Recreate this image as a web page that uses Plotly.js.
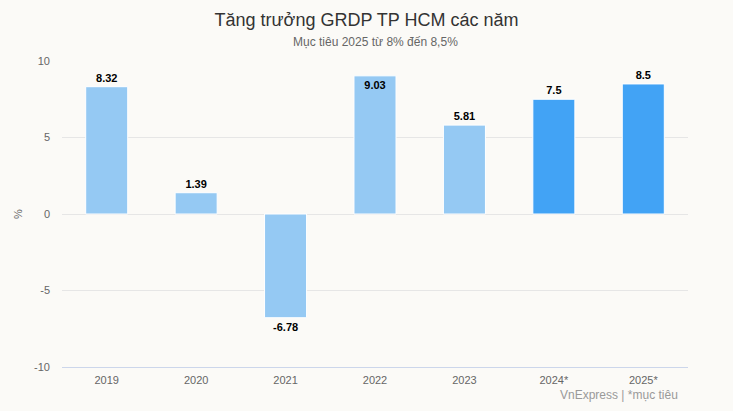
<!DOCTYPE html>
<html>
<head>
<meta charset="utf-8">
<script src="https://cdn.plot.ly/plotly-3.0.1.min.js"></script>
<style>
html,body{margin:0;padding:0;background:#fbfaf7;}
#chart{width:733px;height:411px;}
</style>
</head>
<body>
<div id="chart"></div>
<script>
var years = ['2019', '2020', '2021', '2022', '2023', '2024*', '2025*'];
var growth = [8.32, 1.39, -6.78, 9.03, 5.81, 7.5, 8.5];
var labels = ['8.32', '1.39', '-6.78', '9.03', '5.81', '7.5', '8.5'];
var barColors = ['#95c9f3', '#95c9f3', '#95c9f3', '#95c9f3', '#95c9f3', '#42a3f5', '#42a3f5'];
var labelPositions = ['outside', 'outside', 'outside', 'inside', 'outside', 'outside', 'outside'];
var yTickValues = [-10, -5, 0, 5, 10];
var yTickLabels = ['-10', '-5', '0', '5', '10'];

var lblFont = {family: 'Liberation Sans, Arial, sans-serif', size: 11, color: '#000000', weight: 'bold'};

var trace = {
  type: 'bar',
  x: years,
  y: growth,
  text: labels,
  textposition: labelPositions,
  insidetextanchor: 'end',
  constraintext: 'none',
  cliponaxis: false,
  textfont: lblFont,
  insidetextfont: lblFont,
  outsidetextfont: lblFont,
  marker: {color: barColors, line: {color: '#ffffff', width: 1}},
  hoverinfo: 'x+y'
};

var layout = {
  width: 733,
  height: 411,
  paper_bgcolor: '#fbfaf7',
  plot_bgcolor: '#fbfaf7',
  margin: {l: 62, r: 45, t: 61, b: 44},
  font: {family: 'Liberation Sans, Arial, sans-serif', color: '#666666'},
  showlegend: false,
  bargap: 0.53,
  title: {
    text: 'Tăng trưởng GRDP TP HCM các năm',
    font: {size: 18, color: '#333333'},
    x: 0.5, xanchor: 'center',
    y: 0.952, yanchor: 'middle'
  },
  xaxis: {
    type: 'category',
    showgrid: false,
    showline: true,
    linecolor: '#ccd6eb',
    linewidth: 1,
    ticks: '',
    ticklabelstandoff: 3,
    tickfont: {size: 11, color: '#666666'},
    zeroline: false
  },
  yaxis: {
    range: [-10, 10],
    tickmode: 'array',
    tickvals: yTickValues,
    ticktext: yTickLabels,
    showgrid: true,
    gridcolor: '#e6e6e6',
    gridwidth: 1,
    zeroline: false,
    showline: false,
    ticks: '',
    ticklabelstandoff: 11,
    tickfont: {size: 11, color: '#666666'},
    title: {text: '%', font: {size: 11, color: '#666666'}, standoff: 9}
  },
  annotations: [
    {
      text: 'Mục tiêu 2025 từ 8% đến 8,5%',
      xref: 'paper', yref: 'paper',
      x: 0.5, xanchor: 'center',
      y: 1, yanchor: 'bottom', yshift: 10,
      showarrow: false,
      font: {size: 12, color: '#666666'}
    },
    {
      text: 'VnExpress | *mục tiêu',
      xref: 'paper', yref: 'paper',
      x: 1, xanchor: 'right', xshift: -8,
      y: 0, yanchor: 'top', yshift: -19,
      showarrow: false,
      font: {size: 12, color: '#999999'}
    }
  ]
};

Plotly.newPlot('chart', [trace], layout, {displayModeBar: false, staticPlot: true});
</script>
</body>
</html>
